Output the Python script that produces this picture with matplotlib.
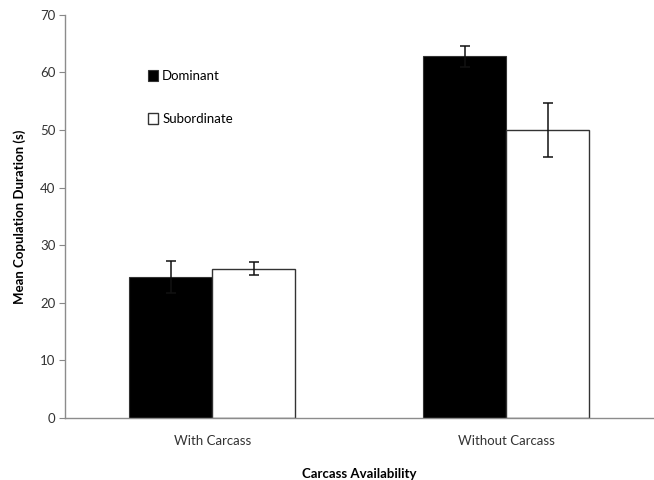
import matplotlib.pyplot as plt
import numpy as np

# Mean copulation duration by carcass availability
categories = ["With Carcass", "Without Carcass"]
dominant = [24.5, 62.8]
dominant_err = [2.8, 1.8]
subordinate = [25.95, 50.0]
subordinate_err = [1.15, 4.65]

plt.rcParams['font.family'] = ['Lato', 'DejaVu Sans']

fig = plt.figure(figsize=(6.54, 4.8), dpi=100)
ax = fig.add_axes([0.1, 0.129, 0.899, 0.84])

x = np.arange(len(categories))
w = 0.282
err_kw = dict(ecolor='#111111', elinewidth=1.1, capsize=3.5, capthick=1.1)

ax.bar(x - w / 2, dominant, w, yerr=dominant_err, color='black',
       edgecolor='#333333', linewidth=0.8, label='Dominant', error_kw=err_kw)
ax.bar(x + w / 2, subordinate, w, yerr=subordinate_err, color='white',
       edgecolor='#333333', linewidth=1.0, label='Subordinate', error_kw=err_kw)

ax.set_xlim(-0.5, 1.5)
ax.set_ylim(0, 70)
ax.set_yticks(range(0, 71, 10))
ax.set_xticks(x)
ax.set_xticklabels(categories)
ax.tick_params(axis='x', length=0, pad=12, labelsize=9.5, colors='#333333')
ax.tick_params(axis='y', length=4, color='#888888', labelsize=9.5, pad=3,
               labelcolor='#333333')

for side in ['top', 'right']:
    ax.spines[side].set_visible(False)
for side in ['left', 'bottom']:
    ax.spines[side].set_color('#8c8c8c')
    ax.spines[side].set_linewidth(1.0)

ax.set_ylabel('Mean Copulation Duration (s)', fontsize=9.5, fontweight='bold', labelpad=10)
ax.set_xlabel('Carcass Availability', fontsize=9.5, fontweight='bold', labelpad=15)

ax.legend(loc='upper left', bbox_to_anchor=(0.14, 0.863), frameon=False,
          fontsize=9.5, handlelength=0.8, handleheight=0.8, handletextpad=0.3,
          labelspacing=2.35, borderpad=0, borderaxespad=0)

fig.savefig('out.png', dpi=100)
